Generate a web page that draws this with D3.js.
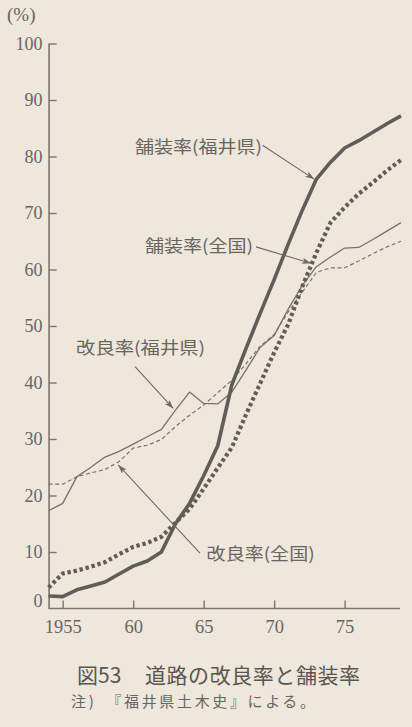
<!DOCTYPE html>
<html><head><meta charset="utf-8">
<script src="https://cdn.jsdelivr.net/npm/d3@7"></script>
<style>
html,body{margin:0;padding:0;background:#eee7dc;}
svg{display:block;}
</style></head>
<body>
<svg id="chart" width="412" height="727"></svg>
<script>
// ---- data ----
const years = [1954,1955,1956,1957,1958,1959,1960,1961,1962,1963,1964,1965,1966,1967,1968,1969,1970,1971,1972,1973,1974,1975,1976,1977,1978,1979];
// 舗装率（福井県）
const pavedFukui = [2.2,2.1,3.3,4.0,4.7,6.1,7.5,8.4,10.0,15.0,18.6,23.5,28.8,39.6,46.0,52.2,58.2,64.5,70.5,76.0,79.0,81.5,82.8,84.3,85.8,87.2];
// 舗装率（全国）
const pavedNation = [3.7,6.2,6.7,7.4,8.2,9.6,10.9,11.6,12.7,15.2,17.6,21.2,24.9,28.5,34.3,39.8,45.3,50.3,57.0,63.0,68.3,71.0,73.4,75.4,77.5,79.4];
// 改良率（福井県）
const improvedFukui = [17.3,18.6,23.3,25.0,26.8,27.8,29.1,30.4,31.7,35.1,38.3,36.3,36.2,38.3,42.2,46.2,48.3,53.0,57.2,60.5,62.2,63.8,63.9,65.3,66.8,68.3];
// 改良率（全国）
const improvedNation = [22.0,22.0,23.3,24.0,24.6,26.0,28.4,28.9,29.9,32.2,34.2,36.0,38.2,40.4,43.3,46.4,48.5,52.5,56.0,59.5,60.3,60.3,61.5,62.8,64.0,65.0];
const yTicks = [0,10,20,30,40,50,60,70,80,90,100];
const xTicks = [1955,1960,1965,1970,1975];
const xTickLabels = ["1955","60","65","70","75"];
const seriesNames = ["舗装率(福井県)","舗装率(全国)","改良率(福井県)","改良率(全国)"];
const unitLabel = "(%)";
const captionNo = "図53";
const captionText = "道路の改良率と舗装率";
const noteText = "注)　『福井県土木史』による。";

// ---- layout ----
const svg = d3.select("#chart");
const x = d3.scaleLinear().domain([1954,1979]).range([48.6,401]);
const y = d3.scaleLinear().domain([0,100]).range([608.5,43.5]);
const axisColor = "#7b7570";
const textColor = "#6a645f";
const serif = "'Liberation Serif','DejaVu Serif',serif";
const cjk = "'Noto Sans CJK JP','Noto Sans',sans-serif";

// unit label
svg.append("text").attr("x",7).attr("y",21).text(unitLabel)
  .attr("font-family",serif).attr("font-size",19).attr("fill",textColor);

// y axis
const gy = svg.append("g").attr("transform",`translate(${x(1954)},0)`)
  .call(d3.axisLeft(y).tickValues(yTicks).tickSize(-8).tickSizeOuter(0).tickPadding(6));
gy.select(".domain").attr("stroke",axisColor).attr("stroke-width",1.6);
gy.selectAll(".tick line").attr("stroke",axisColor).attr("stroke-width",1.4);
gy.selectAll(".tick text").attr("font-family",serif).attr("font-size",18).attr("fill",textColor);
gy.selectAll(".tick").filter(d=>d===0).select("line").remove();
gy.selectAll(".tick").filter(d=>d===0).select("text").attr("dy","-0.1em");

// x axis
const gx = svg.append("g").attr("transform",`translate(0,${y(0)})`)
  .call(d3.axisBottom(x).tickValues(xTicks).tickFormat((d,i)=>xTickLabels[i]).tickSize(-8).tickSizeOuter(0).tickPadding(11));
gx.select(".domain").attr("d",`M${x(1954)},0H400`).attr("stroke",axisColor).attr("stroke-width",1.6);
gx.selectAll(".tick line").attr("stroke",axisColor).attr("stroke-width",1.4);
gx.selectAll(".tick text").attr("font-family",serif).attr("font-size",18.5).attr("fill",textColor);

// lines
const line = d3.line().x((d,i)=>x(years[i])).y(d=>y(d)).curve(d3.curveLinear);
const styles = [
  {data:improvedNation, stroke:"#7a746f", width:1.2, dash:"4,2.6"},
  {data:improvedFukui, stroke:"#77716c", width:1.3, dash:null},
  {data:pavedNation, stroke:"#625c58", width:4.2, dash:"3.4,2.8"},
  {data:pavedFukui, stroke:"#625c58", width:3.6, dash:null}
];
styles.forEach(s=>{
  svg.append("path").datum(s.data).attr("d",line)
    .attr("fill","none").attr("stroke",s.stroke).attr("stroke-width",s.width)
    .attr("stroke-dasharray",s.dash).attr("stroke-linejoin","round");
});

// annotations (data units)
const annotations = [
  {text:seriesNames[0], lx:1960.13, ly:81.7, len:127, from:[1969.18,82.0], to:[1972.84,76.0]},
  {text:seriesNames[1], lx:1960.84, ly:64.2, len:108, from:[1968.71,64.0], to:[1972.61,61.1]},
  {text:seriesNames[2], lx:1955.95, ly:46.2, len:129, from:[1960.13,42.8], to:[1962.84,35.4]},
  {text:seriesNames[3], lx:1965.21, ly:9.65, len:108, from:[1964.74,9.8], to:[1958.94,25.4]}
];
svg.append("defs").append("marker").attr("id","arr")
  .attr("viewBox","0 0 10 10").attr("refX",10).attr("refY",5)
  .attr("markerWidth",9).attr("markerHeight",9).attr("markerUnits","userSpaceOnUse")
  .attr("orient","auto")
  .append("path").attr("d","M0,1.5L10,5L0,8.5L2.5,5Z").attr("fill","#6f6964");
annotations.forEach(a=>{
  svg.append("text").attr("x",x(a.lx)).attr("y",y(a.ly)).attr("dy","0.36em")
    .attr("font-family",cjk).attr("font-size",17).attr("fill",textColor)
    .attr("textLength",a.len).attr("lengthAdjust","spacingAndGlyphs").text(a.text);
  svg.append("line").attr("x1",x(a.from[0])).attr("y1",y(a.from[1]))
    .attr("x2",x(a.to[0])).attr("y2",y(a.to[1]))
    .attr("stroke","#6f6964").attr("stroke-width",1.1).attr("marker-end","url(#arr)");
});

// caption
svg.append("text").attr("x",77).attr("y",675).attr("dy","0.36em")
  .attr("font-family",cjk).attr("font-size",21).attr("fill","#5a5551").text(captionNo);
svg.append("text").attr("x",145).attr("y",675).attr("dy","0.36em")
  .attr("font-family",cjk).attr("font-size",21).attr("fill","#5a5551")
  .attr("textLength",215).attr("lengthAdjust","spacing").text(captionText);
svg.append("text").attr("x",71).attr("y",702).attr("dy","0.36em")
  .attr("font-family",cjk).attr("font-size",15).attr("fill","#6a645f")
  .attr("textLength",244).attr("lengthAdjust","spacing").text(noteText);
</script>
</body></html>
